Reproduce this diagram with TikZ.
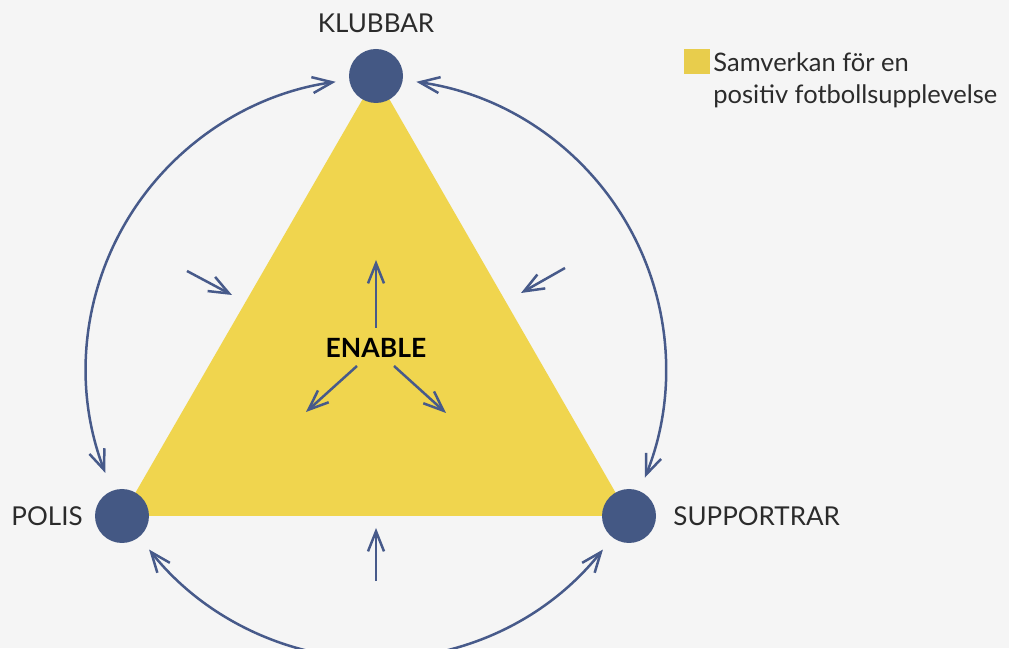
\documentclass[tikz,border=0pt]{standalone}
\usepackage{fontspec}
\setmainfont{Lato}
\usetikzlibrary{positioning,arrows.meta,backgrounds}
\definecolor{bgcol}{HTML}{F5F5F5}
\definecolor{enableyellow}{HTML}{F0D54E}
\definecolor{legendyellow}{HTML}{E8CD4C}
\definecolor{nodeblue}{HTML}{445884}
\definecolor{arrowblue}{HTML}{475A8A}
\definecolor{labelgray}{HTML}{2B2B2B}
\tikzset{
  actor/.style={circle, fill=nodeblue, minimum size=54pt, inner sep=0pt},
  actorlabel/.style={font=\fontsize{26}{30}\selectfont, text=labelgray, inner sep=0pt},
  barb/.tip={Straight Barb[length=20pt, width=16pt]},
  flow/.style={draw=arrowblue, line width=2.5pt, -barb},
  dualflow/.style={draw=arrowblue, line width=2.5pt, barb-barb},
}
\begin{document}
\begin{tikzpicture}[x=1pt, y=1pt]
  \useasboundingbox (0,0) rectangle (1009,648);
  % the three actors
  \node [actor] (klubbar)    at (376,572) {};
  \node [actor] (polis)      at (122,132) {};
  \node [actor] (supportrar) at (629,132) {};
  \node [actorlabel, above=16pt of klubbar] (klubbarlabel) {KLUBBAR};
  \node [actorlabel, left=12pt of polis] (polislabel) {POLIS};
  \node [actorlabel, right=17pt of supportrar] (supportrarlabel) {SUPPORTRAR};
  \node [font=\fontsize{26.5}{30}\bfseries, inner sep=0pt] (enable) at (376,300) {ENABLE};
  % legend
  \node [fill=legendyellow, minimum width=26pt, minimum height=25pt, inner sep=0pt] (legendbox) at (697,586.5) {};
  \node [font=\fontsize{25.5}{32}\selectfont, text=labelgray, align=left, inner sep=0pt,
         anchor=north west] (legendtext) at ([xshift=3pt,yshift=-4pt]legendbox.north east)
        {Samverkan för en\\positiv fotbollsupplevelse};
  \begin{scope}[on background layer]
    \fill [bgcol] (0,0) rectangle (1009,648);
    \fill [enableyellow] (klubbar.center) -- (polis.center) -- (supportrar.center) -- cycle;
  \end{scope}
  % outer ring
  \coordinate (hub) at (376,279);
  \path (hub) ++(98:290)  coordinate (klubbarwest);
  \path (hub) ++(82:290)  coordinate (klubbareast);
  \path (hub) ++(201:290) coordinate (polisnorth);
  \path (hub) ++(218.5:290) coordinate (polissouth);
  \path (hub) ++(-22:290) coordinate (supportrarnorth);
  \path (hub) ++(-38.5:290) coordinate (supportrarsouth);
  \draw [dualflow] (polisnorth) arc [start angle=201, end angle=98, radius=290];
  \draw [dualflow] (klubbareast) arc [start angle=82, end angle=-22, radius=290];
  \draw [dualflow] (supportrarsouth) arc [start angle=-38.5, end angle=-141.5, radius=290];
  % pressure on the sides
  \coordinate (westtail)  at (187,377);
  \coordinate (westhead)  at (232,353);
  \coordinate (easttail)  at (565,380);
  \coordinate (easthead)  at (521,355);
  \coordinate (southtail) at (376,67);
  \coordinate (southhead) at (376,120);
  \draw [flow] (westtail) -- (westhead);
  \draw [flow] (easttail) -- (easthead);
  \draw [flow] (southtail) -- (southhead);
  % from the centre
  \draw [flow] ([yshift=20pt]enable.center) -- ++(0,68);
  \draw [flow] ([shift={(-19,-18)}]enable.center) -- ++(-51,-46);
  \draw [flow] ([shift={(18,-18)}]enable.center) -- ++(52,-47);
\end{tikzpicture}
\end{document}
